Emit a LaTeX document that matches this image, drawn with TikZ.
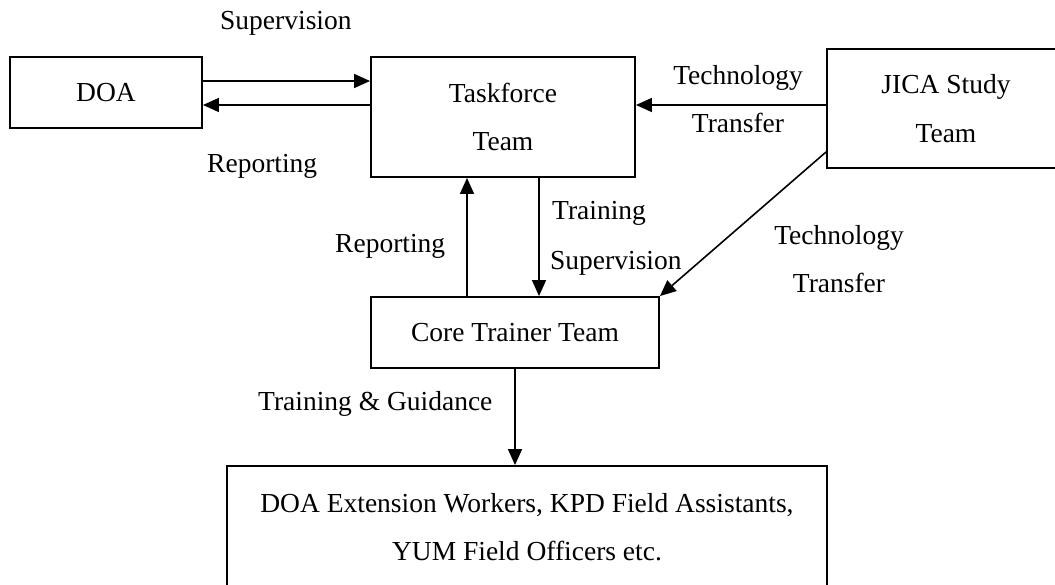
\documentclass[tikz,border=0pt]{standalone}
\usepackage{fontspec}
\setmainfont{Liberation Serif}
\usetikzlibrary{arrows.meta}
\tikzset{
  box/.style={draw, line width=1.9pt, rectangle, inner sep=0pt, align=center,
              font=\fontsize{27.5}{48.5}\selectfont},
  lbl/.style={inner sep=0pt, font=\fontsize{27.5}{33}\selectfont},
  arr/.style={line width=1.6pt, -{Triangle[length=16pt,width=14pt]}}
}
\begin{document}
\begin{tikzpicture}[x=1pt,y=1pt]
\useasboundingbox (0,0) rectangle (1055,584);
\clip (0,0) rectangle (1055,584);
% boxes
\node[box, minimum width=192pt, minimum height=71pt] (doa) at (106,491.5) {DOA};
\node[box, minimum width=264pt, minimum height=120pt] (tf) at (503,467) {Taskforce\\Team};
\node[box, minimum width=238pt, minimum height=119pt] (jica) at (946,475.5) {JICA Study\\Team};
\node[box, minimum width=288pt, minimum height=71pt] (core) at (515,251.5) {Core Trainer Team};
\node[box, minimum width=600pt, minimum height=122pt] (bot) at (527,57) {DOA Extension Workers, KPD Field Assistants,\\YUM Field Officers etc.};
% labels
\node[lbl, anchor=base west] (lsup) at (220,554) {Supervision};
\node[lbl, anchor=base west] (lrep) at (207,411) {Reporting};
\node[lbl, anchor=base] (ltech1) at (738,499) {Technology};
\node[lbl, anchor=base] (ltran1) at (738,451) {Transfer};
\node[lbl, anchor=base west] (ltrain) at (552,364) {Training};
\node[lbl, anchor=base west] (lsup2) at (550,314) {Supervision};
\node[lbl, anchor=base west] (lrep2) at (335,331) {Reporting};
\node[lbl, anchor=base] (ltech2) at (839,339) {Technology};
\node[lbl, anchor=base] (ltran2) at (839,291) {Transfer};
\node[lbl, anchor=base west] (ltg) at (258,173) {Training \& Guidance};
% connectors
\draw[arr] (doa.east |- 0,503) -- (tf.west |- 0,503);
\draw[arr] (tf.west |- 0,479) -- (doa.east |- 0,479);
\draw[arr] (jica.west |- 0,479) -- (tf.east |- 0,479);
\draw[arr] (tf.south -| 539,0) -- (core.north -| 539,0);
\draw[arr] (core.north -| 467,0) -- (tf.south -| 467,0);
\draw[arr] (jica.west |- 0,432) -- (core.north east);
\draw[arr] (core.south) -- (core.south |- bot.north);
\end{tikzpicture}
\end{document}
